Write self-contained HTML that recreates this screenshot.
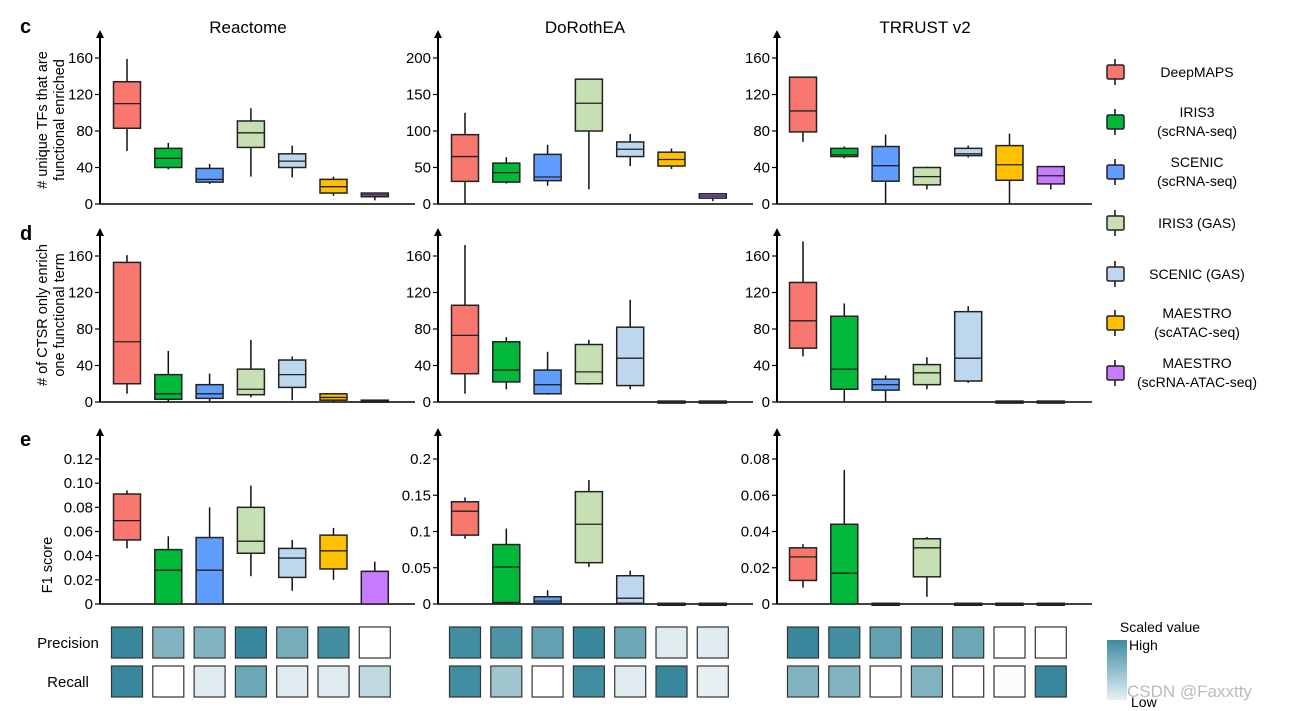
<!DOCTYPE html>
<html><head><meta charset="utf-8"><style>
body{margin:0;background:#fff;}
svg{display:block;font-family:"Liberation Sans",Arial,sans-serif;}
</style></head><body>
<svg id="fig" width="1300" height="711" viewBox="0 0 1300 711"></svg>
<script>
const methods=["DeepMAPS","IRIS3 (scRNA-seq)","SCENIC (scRNA-seq)","IRIS3 (GAS)","SCENIC (GAS)","MAESTRO (scATAC-seq)","MAESTRO (scRNA-ATAC-seq)"];
const colors=["#f8776f","#00b83a","#619cff","#c6e0b4","#bdd7ee","#ffc000","#c77cff"];
const dbTitles=["Reactome","DoRothEA","TRRUST v2"];
// box stats [low, q1, median, q3, high]
const cReactome=[[58,83,110,134,159],[38,40,50,61,67],[22,24,27,39,44],[30,62,78,91,105],[29,40,47,55,64],[9,12,19,27,30],[4,8,10,12,12]];
const cDoro=[[0,31,65,95,125],[28,30,43,56,64],[25,32,37,68,81],[20,100,138,171,171],[52,65,75,85,96],[48,52,61,71,76],[4,8,11,14,14]];
const cTrrust=[[68,79,102,139,139],[50,52,54,61,63],[0,25,42,63,76],[16,21,30,40,41],[51,53,55,61,64],[0,26,43,64,77],[16,22,31,41,41]];
const dReactome=[[9,20,66,153,161],[0,3,9,30,56],[0,4,9,19,31],[5,8,14,36,68],[2,16,30,46,50],[0,2,5,9,10],[0,0,1,2,2]];
const dDoro=[[9,31,73,106,172],[14,22,35,66,71],[8,9,19,35,55],[19,20,33,63,68],[14,18,48,82,112],[0,0,0,1,1],[0,0,0,1,1]];
const dTrrust=[[50,59,89,131,176],[0,14,36,94,108],[0,13,19,25,29],[14,19,32,41,49],[21,23,48,99,105],[0,0,0,1,1],[0,0,0,1,1]];
const eReactome=[[.046,.053,.069,.091,.094],[0,0,.028,.045,.056],[0,0,.028,.055,.080],[.023,.042,.052,.080,.098],[.011,.022,.038,.046,.053],[.020,.029,.044,.057,.063],[0,0,.027,.027,.035]];
const eDoro=[[.09,.095,.128,.141,.147],[0,.002,.051,.082,.104],[0,.001,.004,.010,.019],[.051,.057,.11,.155,.171],[0,.001,.008,.039,.046],[0,0,0,.001,.001],[0,0,0,.001,.001]];
const eTrrust=[[.009,.013,.026,.031,.033],[0,0,.017,.044,.074],[0,0,0,.0004,.0004],[.004,.015,.031,.036,.037],[0,0,0,.0004,.0004],[0,0,0,.0004,.0004],[0,0,0,.0004,.0004]];
const ticksC=[[0,40,80,120,160],[0,50,100,150,200],[0,40,80,120,160]];
const ticksD=[[0,40,80,120,160],[0,40,80,120,160],[0,40,80,120,160]];
const ticksE=[[0,0.02,0.04,0.06,0.08,0.10,0.12],[0,0.05,0.1,0.15,0.2],[0,0.02,0.04,0.06,0.08]];
const tickLabE=[["0","0.02","0.04","0.06","0.08","0.10","0.12"],["0","0.05","0.1","0.15","0.2"],["0","0.02","0.04","0.06","0.08"]];
const precision=[[0.95,0.6,0.6,0.95,0.65,0.9,0],[0.9,0.85,0.75,0.95,0.7,0.15,0.15],[0.95,0.9,0.75,0.8,0.7,0,0]];
const recall=[[0.95,0,0.15,0.7,0.15,0.15,0.3],[0.9,0.45,0,0.9,0.15,0.95,0.12],[0.6,0.6,0,0.6,0,0.02,0.95]];

const NS="http://www.w3.org/2000/svg";
const svg=document.getElementById('fig');
function el(tag,attrs,parent,text){const e=document.createElementNS(NS,tag);for(const k in attrs)e.setAttribute(k,attrs[k]);if(text!==undefined)e.textContent=text;(parent||svg).appendChild(e);return e;}

const axisX=[100,438,777];
const axisEnd=[415,753,1092];
const firstC=[127,465,803];
const step=41.3;
const rows=[
 {data:[cReactome,cDoro,cTrrust],ticks:ticksC,labs:null,zeroY:204,topTick:[160,200,160],topY:58,arrowY:30,name:'c'},
 {data:[dReactome,dDoro,dTrrust],ticks:ticksD,labs:null,zeroY:402,topTick:[160,160,160],topY:256,arrowY:228,name:'d'},
 {data:[eReactome,eDoro,eTrrust],ticks:ticksE,labs:tickLabE,zeroY:604,topTick:[0.12,0.2,0.08],topY:459,arrowY:428,name:'e'}
];
function cx(p,i){return firstC[p]+i*step;}

rows.forEach((r,ri)=>{
 for(let p=0;p<3;p++){
  const g=el('g',{},svg);
  
  
  const y=v=>r.zeroY-(v/r.topTick[p])*(r.zeroY-r.topY);
  const ax=axisX[p];
  const yax=el('line',{x1:ax,y1:r.zeroY,x2:ax,y2:r.arrowY+6,stroke:'#000','stroke-width':2},g);
  
  
  el('path',{d:`M${ax-4},${r.arrowY+8} L${ax},${r.arrowY} L${ax+4},${r.arrowY+8}Z`,fill:'#000'},g);
  const xax=el('line',{x1:ax,y1:r.zeroY,x2:axisEnd[p],y2:r.zeroY,stroke:'#000','stroke-width':1.5},g);
  
  
  r.ticks[p].forEach((t,ti)=>{
   const ty=y(t);
   el('line',{x1:ax-5,y1:ty,x2:ax,y2:ty,stroke:'#000','stroke-width':1.2},g);
   const lab=r.labs?r.labs[p][ti]:String(t);
   const tx=el('text',{x:ax-7,y:ty+5,'text-anchor':'end','font-size':15},g,lab);
   
   
  });
  r.data[p].forEach((b,i)=>{
   const c=cx(p,i),w=27;
   const bg=el('g',{},g);
   
   
   el('line',{x1:c,y1:y(b[0]),x2:c,y2:y(b[4]),stroke:'#111','stroke-width':1.5},bg);
   const h=Math.max(y(b[1])-y(b[3]),2);
   el('rect',{x:c-w/2,y:y(b[3]),width:w,height:h,fill:colors[i],stroke:'#222','stroke-width':1.5},bg);
   el('line',{x1:c-w/2,y1:y(b[2]),x2:c+w/2,y2:y(b[2]),stroke:'#222','stroke-width':1.3},bg);
  });
 }
});
// titles
[248,585,925].forEach((x,i)=>{const t=el('text',{x:x,y:33,'text-anchor':'middle','font-size':17},svg,dbTitles[i]);
 
 });
[['c',20,33],['d',20,240],['e',20,446]].forEach(a=>{const t=el('text',{x:a[1],y:a[2],'font-size':20,'font-weight':'bold'},svg,a[0]);
 
 });
function vtitle(lines,x,yc,name){const t=el('text',{transform:`translate(${x},${yc}) rotate(-90)`,'text-anchor':'middle','font-size':14.5},svg);
 
 
 lines.forEach((l,i)=>el('tspan',{x:0,dy:i?17:0},t,l));}
vtitle(["# unique TFs that are","functional enriched"],47,120,'y-axis-title-c');
vtitle(["# of CTSR only enrich","one functional term"],47,315,'y-axis-title-d');
vtitle(["F1 score"],52,565,'y-axis-title-e');

// heatmap
function heat(v){const a=[255,255,255],b=[45,129,151];return `rgb(${a.map((x,k)=>Math.round(x+(b[k]-x)*v)).join(',')})`;}
[[precision,627,'Precision'],[recall,666,'Recall']].forEach(([arr,yy,lab])=>{
 const t=el('text',{x:68,y:yy+21,'text-anchor':'middle','font-size':15},svg,lab);
 
 
 for(let p=0;p<3;p++)arr[p].forEach((v,i)=>{
  const r=el('rect',{x:cx(p,i)-15.5,y:yy,width:31,height:31,fill:heat(v),stroke:'#333','stroke-width':1.2},svg);
  
  
 });
});
// legend
const legY=[72,122,172,223,274,323,373];
const legTxt=[["DeepMAPS"],["IRIS3","(scRNA-seq)"],["SCENIC","(scRNA-seq)"],["IRIS3 (GAS)"],["SCENIC (GAS)"],["MAESTRO","(scATAC-seq)"],["MAESTRO","(scRNA-ATAC-seq)"]];
legY.forEach((ly,i)=>{
 const g=el('g',{},svg);
 
 
 el('line',{x1:1115,y1:ly-13,x2:1115,y2:ly+13,stroke:'#111','stroke-width':1.5},g);
 el('rect',{x:1107,y:ly-7,width:17,height:14,fill:colors[i],stroke:'#222','stroke-width':1.5,rx:1.5},g);
 const lines=legTxt[i];
 lines.forEach((l,k)=>el('text',{x:1197,y:ly+5+(lines.length===2?(k?9:-10):0),'text-anchor':'middle','font-size':14},g,l));
});
// colorbar
const defs=el('defs',{},svg);
const lg=el('linearGradient',{id:'cb',x1:0,y1:0,x2:0,y2:1},defs);
el('stop',{offset:0,'stop-color':'#3e8aa1'},lg);el('stop',{offset:1,'stop-color':'#e6f1f5'},lg);
const cb=el('rect',{x:1107,y:640,width:20,height:60,fill:'url(#cb)'},svg);


const st=el('text',{x:1160,y:632,'text-anchor':'middle','font-size':14},svg,'Scaled value');


el('text',{x:1129,y:650,'font-size':14},svg,'High');
el('text',{x:1131,y:707,'font-size':14},svg,'Low');
const wm=el('text',{x:1127,y:697,'font-size':17,fill:'#bbb'},svg,'CSDN @Faxxtty');


</script>
</body></html>
